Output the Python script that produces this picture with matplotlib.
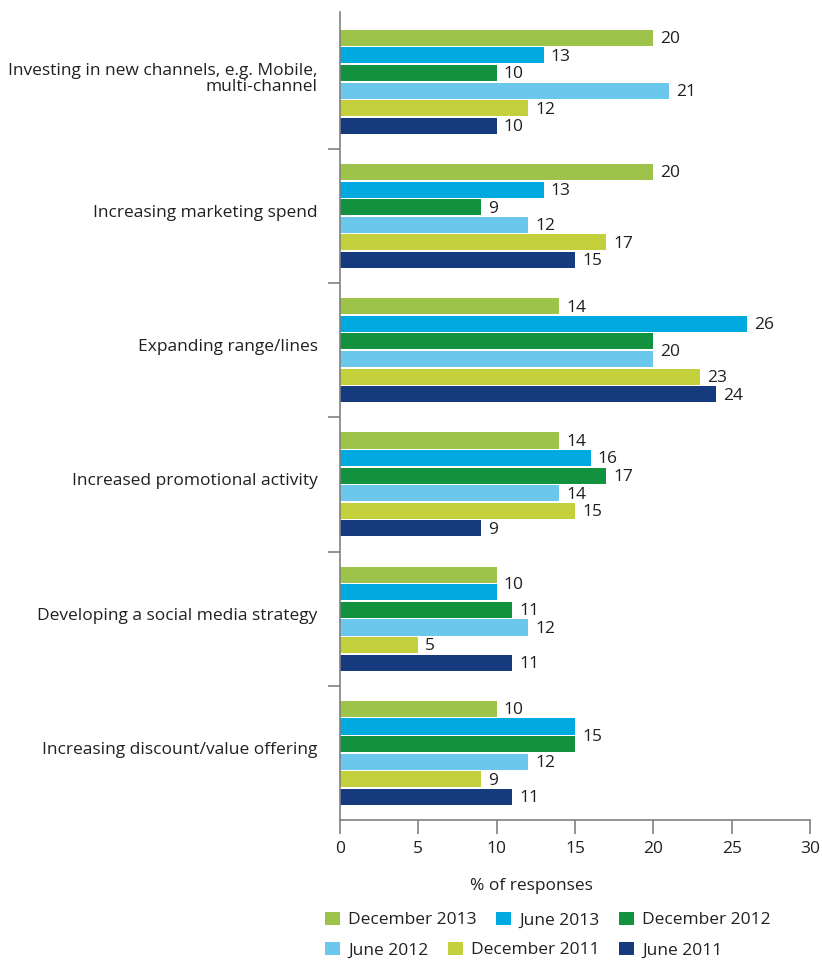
import numpy as np
import matplotlib.pyplot as plt
import matplotlib.transforms as mtransforms
from matplotlib.patches import Patch

plt.rcParams['font.family'] = ['Open Sans', 'DejaVu Sans']

categories = [
    'Investing in new channels, e.g. Mobile,\nmulti-channel',
    'Increasing marketing spend',
    'Expanding range/lines',
    'Increased promotional activity',
    'Developing a social media strategy',
    'Increasing discount/value offering',
]
series = ['December 2013', 'June 2013', 'December 2012',
          'June 2012', 'December 2011', 'June 2011']
colors = ['#9dc34b', '#00a9e0', '#12913f', '#6bc8ec', '#c3d03b', '#153a7e']

dec_2013 = [20, 20, 14, 14, 10, 10]
jun_2013 = [13, 13, 26, 16, 10, 15]
dec_2012 = [10, 9, 20, 17, 11, 15]
jun_2012 = [21, 12, 20, 14, 12, 12]
dec_2011 = [12, 17, 23, 15, 5, 9]
jun_2011 = [10, 15, 24, 9, 11, 11]
values = [dec_2013, jun_2013, dec_2012, jun_2012, dec_2011, jun_2011]

text_col = '#231f20'
axis_col = '#808080'
fs = 12.5

fig = plt.figure(figsize=(8.22, 9.6), dpi=100)
ax = fig.add_axes([340 / 822, 1 - 820 / 960, 470 / 822, 808 / 960])

pitch = 0.131
height = 0.12
centers = np.arange(len(categories))

for j, (name, vals, c) in enumerate(zip(series, values, colors)):
    ys = centers + (j - 2.5) * pitch
    ax.barh(ys, vals, height=height, color=c, label=name)

# value labels; equal neighbouring bars share one label between them
for i in range(len(categories)):
    j = 0
    while j < len(series):
        v = values[j][i]
        y = i + (j - 2.5) * pitch
        if j + 1 < len(series) and values[j + 1][i] == v:
            y += pitch / 2
            j += 2
        else:
            j += 1
        ax.annotate(str(v), (v, y), xytext=(5, -1), textcoords='offset points',
                    ha='left', va='center', fontsize=fs, color=text_col)

ax.set_xlim(0, 30)
ax.set_ylim(5.5, -0.52)
ax.set_xticks(range(0, 31, 5))
ax.set_yticks(centers)
ax.set_yticklabels(categories, fontsize=fs, color=text_col, linespacing=1.0)
ax.set_yticks(centers[:-1] + 0.5, minor=True)
ax.tick_params(axis='y', which='major', length=0, pad=16)
ax.tick_params(axis='y', which='minor', length=9, color=axis_col, width=1.2)
ax.tick_params(axis='x', length=10, color=axis_col, width=1.2, pad=5,
               labelsize=fs, labelcolor=text_col)

# nudge category labels up a little
shift = mtransforms.ScaledTranslation(0, 5 / 100, fig.dpi_scale_trans)
for lbl in ax.get_yticklabels():
    lbl.set_transform(lbl.get_transform() + shift)

for s in ['top', 'right']:
    ax.spines[s].set_visible(False)
for s in ['left', 'bottom']:
    ax.spines[s].set_color(axis_col)
    ax.spines[s].set_linewidth(1.2)

fig.text(531 / 822, 1 - 886 / 960, '% of responses', ha='center', va='center',
         fontsize=fs, color=text_col)

handles = [Patch(facecolor=c, label=s) for s, c in zip(series, colors)]
leg_kw = dict(ncol=3, frameon=False, fontsize=fs, handlelength=0.85, handleheight=0.85,
              handletextpad=0.5, columnspacing=1.1, borderaxespad=0, borderpad=0,
              loc='center left', labelcolor=text_col)
fig.legend(handles=handles[:3], bbox_to_anchor=(325 / 822, 1 - 920 / 960), **leg_kw)
fig.legend(handles=handles[3:], bbox_to_anchor=(325 / 822, 1 - 950 / 960), **leg_kw)

fig.savefig('out.png', dpi=100)
